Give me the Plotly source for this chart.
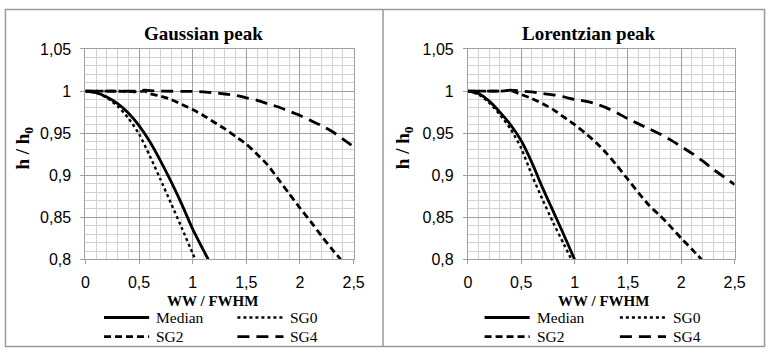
import plotly.graph_objects as go

# ---------------- data ----------------
x_tick_vals = [0, 0.5, 1, 1.5, 2, 2.5]
x_tick_text = ["0", "0,5", "1", "1,5", "2", "2,5"]
y_tick_vals = [0.8, 0.85, 0.9, 0.95, 1.0, 1.05]
y_tick_text = ["0,8", "0,85", "0,9", "0,95", "1", "1,05"]

series_names = ["Median", "SG0", "SG2", "SG4"]

# Gaussian peak
g_median_x = [0, 0.1, 0.2, 0.3, 0.4, 0.5, 0.6, 0.7, 0.8, 0.9, 1.0, 1.1, 1.145]
g_median_y = [1.0, 0.998, 0.993, 0.985, 0.974, 0.959, 0.940, 0.917, 0.892, 0.865, 0.836, 0.811, 0.80]
g_sg0_x = [0, 0.1, 0.2, 0.3, 0.4, 0.5, 0.6, 0.7, 0.8, 0.9, 1.0, 1.024]
g_sg0_y = [1.0, 0.998, 0.992, 0.982, 0.968, 0.949, 0.923, 0.895, 0.866, 0.837, 0.807, 0.80]
g_sg2_x = [0, 0.2, 0.4, 0.5, 0.55, 0.6, 0.7, 0.8, 0.9, 1.0, 1.1, 1.2, 1.3, 1.4, 1.5, 1.6,
           1.7, 1.8, 1.9, 2.0, 2.1, 2.2, 2.3, 2.38]
g_sg2_y = [1.0, 1.0, 0.9995, 0.999, 1.0, 0.997, 0.994, 0.990, 0.984, 0.978, 0.971, 0.963, 0.955,
           0.946, 0.937, 0.925, 0.912, 0.895, 0.878, 0.861, 0.845, 0.828, 0.812, 0.80]
g_sg4_x = [0, 0.5, 0.55, 0.6, 0.7, 1.0, 1.1, 1.2, 1.3, 1.4, 1.5, 1.6, 1.7, 1.8, 1.9, 2.0,
           2.1, 2.2, 2.3, 2.4, 2.5]
g_sg4_y = [1.0, 1.0, 1.001, 1.0005, 1.0, 0.9995, 0.999, 0.998, 0.9965, 0.995, 0.992, 0.989,
           0.985, 0.981, 0.976, 0.971, 0.965, 0.959, 0.952, 0.943, 0.934]

# Lorentzian peak
l_median_x = [0, 0.1, 0.2, 0.3, 0.4, 0.5, 0.6, 0.7, 0.8, 0.9, 1.0]
l_median_y = [1.0, 0.997, 0.988, 0.975, 0.960, 0.941, 0.915, 0.885, 0.857, 0.829, 0.80]
l_sg0_x = [0, 0.1, 0.2, 0.3, 0.4, 0.5, 0.6, 0.7, 0.8, 0.9, 0.97]
l_sg0_y = [1.0, 0.996, 0.986, 0.972, 0.955, 0.932, 0.900, 0.871, 0.8435, 0.818, 0.80]
l_sg2_x = [0, 0.3, 0.4, 0.5, 0.6, 0.7, 0.8, 0.9, 1.0, 1.1, 1.2, 1.3, 1.4, 1.5, 1.6, 1.7,
           1.8, 1.9, 2.0, 2.1, 2.19]
l_sg2_y = [1.0, 1.0, 1.0005, 0.996, 0.991, 0.985, 0.978, 0.969, 0.960, 0.950, 0.939, 0.926,
           0.911, 0.895, 0.879, 0.864, 0.852, 0.839, 0.825, 0.812, 0.80]
l_sg4_x = [0, 0.3, 0.4, 0.5, 0.6, 0.7, 0.8, 0.9, 1.0, 1.1, 1.2, 1.3, 1.4, 1.5, 1.6, 1.7,
           1.8, 1.9, 2.0, 2.1, 2.2, 2.3, 2.4, 2.5]
l_sg4_y = [1.0, 1.0, 1.001, 1.0, 0.999, 0.997, 0.9955, 0.993, 0.990, 0.988, 0.985, 0.980,
           0.974, 0.967, 0.961, 0.955, 0.949, 0.942, 0.934, 0.926, 0.917, 0.907, 0.898, 0.889]

panel_titles = ["Gaussian peak", "Lorentzian peak"]
x_title = "WW / FWHM"
y_title = "h / h<sub>0</sub>"

# ---------------- styling ----------------
W, H = 778, 357
SERIF = "Liberation Serif, Times New Roman, serif"
SANS = "Liberation Sans, Arial, sans-serif"
styles = {
    "Median": dict(color="black", width=2.8, dash="solid"),
    "SG0": dict(color="black", width=2.4, dash="dot"),
    "SG2": dict(color="black", width=2.8, dash="7px,4px"),
    "SG4": dict(color="black", width=2.8, dash="12px,7px"),
}

def px_x(p):
    return p / W

def px_y(p):
    return 1 - p / H

fig = go.Figure()

panels = [
    dict(xa="x", ya="y", xd=(83, 356.5), data=[(g_median_x, g_median_y), (g_sg0_x, g_sg0_y),
                                             (g_sg2_x, g_sg2_y), (g_sg4_x, g_sg4_y)]),
    dict(xa="x2", ya="y2", xd=(473, 745), data=[(l_median_x, l_median_y), (l_sg0_x, l_sg0_y),
                                             (l_sg2_x, l_sg2_y), (l_sg4_x, l_sg4_y)]),
]

for pnl in panels:
    for name, (xs, ys) in zip(series_names, pnl["data"]):
        fig.add_trace(go.Scatter(x=xs, y=ys, mode="lines", name=name, line=styles[name],
                                 xaxis=pnl["xa"], yaxis=pnl["ya"], showlegend=False,
                                 hoverinfo="skip",
                                 line_shape="spline", line_smoothing=0.6))

y_dom = [px_y(264), px_y(43)]
axis_common = dict(showline=True, linecolor="#a0a0a0", linewidth=1, mirror=True,
                   gridcolor="#a0a0a0", gridwidth=1, zeroline=False,
                   ticks="outside", ticklen=4, tickcolor="#a0a0a0",
                   tickfont=dict(family=SANS, size=16, color="black"))

for i, pnl in enumerate(panels):
    suffix = "" if i == 0 else "2"
    fig.layout["xaxis" + suffix] = dict(
        domain=[px_x(pnl["xd"][0]), px_x(pnl["xd"][1])], range=[0, 2.5],
        anchor="y" + suffix, tickvals=x_tick_vals, ticktext=x_tick_text,
        ticklabelstandoff=4,
        minor=dict(dtick=0.1, tick0=0, showgrid=True, gridcolor="#d2d2d2", gridwidth=1),
        **axis_common)
    fig.layout["yaxis" + suffix] = dict(
        domain=y_dom, range=[0.8, 1.05], anchor="x" + suffix,
        tickvals=y_tick_vals, ticktext=y_tick_text,
        ticklabelstandoff=6,
        minor=dict(dtick=0.01, tick0=0.8, showgrid=True, gridcolor="#d2d2d2", gridwidth=1),
        **axis_common)

annotations = []
shapes = []

panel_info = [
    dict(title_x=203, xt_x=213, yt_x=20, leg=(102, 148, 153, 238, 285, 290)),
    dict(title_x=597, xt_x=611, yt_x=408, leg=(490, 536, 541, 628, 675, 680)),
]
for i, info in enumerate(panel_info):
    annotations.append(dict(text="<b>%s</b>" % panel_titles[i], x=px_x(info["title_x"]),
                            y=px_y(27), xref="paper", yref="paper", showarrow=False,
                            xanchor="center", yanchor="middle",
                            font=dict(family=SERIF, size=19, color="black")))
    annotations.append(dict(text="<b>%s</b>" % x_title, x=px_x(info["xt_x"]), y=px_y(308),
                            xref="paper", yref="paper", showarrow=False,
                            xanchor="center", yanchor="middle",
                            font=dict(family=SERIF, size=15, color="black")))
    annotations.append(dict(text="<b>%s</b>" % y_title, x=px_x(info["yt_x"]), y=px_y(147),
                            xref="paper", yref="paper", showarrow=False, textangle=-90,
                            xanchor="center", yanchor="middle",
                            font=dict(family=SERIF, size=19, color="black")))
    l0, l1, t0, r0, r1, t1 = info["leg"]
    rows = [(325, series_names[0], series_names[1]), (345, series_names[2], series_names[3])]
    for ry, a, b in rows:
        for (s0, s1, tx, nm) in [(l0, l1, t0, a), (r0, r1, t1, b)]:
            st = styles[nm]
            shapes.append(dict(type="line", xref="paper", yref="paper",
                               x0=px_x(s0), x1=px_x(s1), y0=px_y(ry), y1=px_y(ry),
                               line=dict(color="black", width=st["width"], dash=st["dash"])))
            annotations.append(dict(text=nm, x=px_x(tx), y=px_y(ry), xref="paper",
                                    yref="paper", showarrow=False, xanchor="left",
                                    yanchor="middle",
                                    font=dict(family=SERIF, size=15.5, color="black")))

# panel borders
border = dict(color="#9a9a9a", width=1.5)
shapes.append(dict(type="rect", xref="paper", yref="paper", x0=px_x(1.5), x1=px_x(775.5),
                   y0=px_y(355.5), y1=px_y(1.5), line=border))
shapes.append(dict(type="line", xref="paper", yref="paper", x0=px_x(386.5), x1=px_x(386.5),
                   y0=px_y(355.5), y1=px_y(1.5), line=border))

fig.update_layout(width=W, height=H, margin=dict(l=0, r=0, t=0, b=0),
                  paper_bgcolor="white", plot_bgcolor="white", showlegend=False,
                  hovermode=False,
                  annotations=annotations, shapes=shapes, separators=", ")

fig.write_html("out.html", config={"displayModeBar": False, "staticPlot": True},
               post_script=("document.documentElement.style.margin='0';"
                            "document.documentElement.style.overflow='hidden';"
                            "document.body.style.margin='0';"
                            "document.body.style.padding='0';"
                            "document.body.style.overflow='hidden';"))
